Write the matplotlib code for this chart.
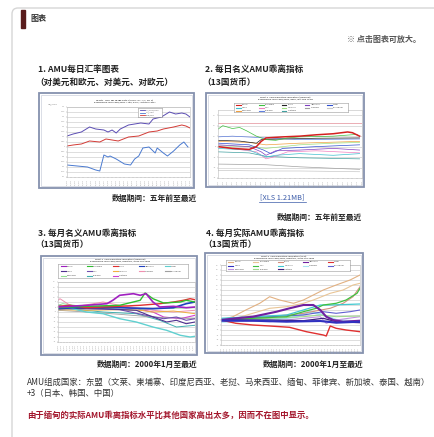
from matplotlib import pyplot as plt
from matplotlib.patches import Rectangle, FancyBboxPatch

plt.rcParams['font.family'] = ['Noto Sans CJK SC', 'DejaVu Sans']

# page texts
page_title = '图表'
click_note = '※ 点击图表可放大。'
c1_head = ['1. AMU每日汇率图表', '（对美元和欧元、对美元、对欧元）']
c2_head = ['2. 每日名义AMU乖离指标', '（13国货币）']
c3_head = ['3. 每月名义AMU乖离指标', '（13国货币）']
c4_head = ['4. 每月实际AMU乖离指标', '（13国货币）']
period_5y = '数据期间：五年前至最近'
period_2000 = '数据期间：2000年1月至最近'
xls_link = '[XLS 1.21MB]'
note_members = ['AMU组成国家：东盟（文莱、柬埔寨、印度尼西亚、老挝、马来西亚、缅甸、菲律宾、新加坡、泰国、越南）',
                '+3（日本、韩国、中国）']
note_red = '由于缅甸的实际AMU乖离指标水平比其他国家高出太多，因而不在图中显示。'

countries = ['Brunei', 'Cambodia', 'China', 'Indonesia', 'Japan', 'Korea', 'Laos',
             'Malaysia', 'Myanmar', 'Philippines', 'Singapore', 'Thailand', 'Vietnam']

# chart 1: AMU daily rate (months since start, value)
c1_purple = ([0, 3, 7, 11, 14, 18, 20, 22, 24, 26, 30, 33, 36, 40, 42, 46, 50, 53, 56, 58, 60],
             [1.11, 1.13, 1.15, 1.20, 1.18, 1.17, 1.15, 1.17, 1.14, 1.18, 1.22, 1.23, 1.24, 1.23,
              1.28, 1.30, 1.35, 1.33, 1.34, 1.33, 1.30])
c1_red = ([0, 3, 7, 11, 16, 19, 22, 25, 30, 35, 40, 44, 47, 52, 56, 58, 60],
          [1.01, 1.02, 1.03, 1.06, 1.05, 1.08, 1.07, 1.06, 1.10, 1.11, 1.15, 1.16, 1.18, 1.20,
           1.22, 1.21, 1.19])
c1_blue = ([0, 5, 10, 14, 16, 18, 20, 21, 24, 28, 31, 33, 35, 37, 40, 43, 44, 47, 49, 52, 55, 57, 59],
           [0.82, 0.81, 0.80, 0.77, 0.76, 0.92, 0.90, 0.91, 0.88, 0.83, 0.82, 0.88, 0.91, 0.99,
            1.00, 0.94, 0.99, 0.94, 0.91, 0.96, 1.02, 1.05, 1.00])
c1_xlabels = ['%02d/%02d' % (6 + m // 12, m % 12 + 1) for m in range(0, 61, 2)]

# chart 2: daily nominal deviation (%)
c2_red = ([0, 6, 13, 16, 18, 20, 27, 34, 41, 48, 54, 56, 59],
          [0, -1.7, -2.7, 0, 5, 8.3, 9.3, 10, 11.3, 12.3, 14, 13.3, 10])
c2_green = ([0, 2, 6, 9, 12, 16, 20, 24, 29, 34, 48, 58],
            [16.7, 20, 17.3, 18.3, 15, 10, 6.7, 6, 8.3, 9.3, 10, 11.7])
c2_black = ([0, 9, 16, 18, 27, 41, 59], [6, 5.3, 3.3, 6.7, 7.3, 8, 8.3])
c2_purple = ([0, 13, 18, 20, 24, 34, 48, 59], [1.7, 0, -5, -8.3, -4, -3.3, -1.7, -3.3])
c2_blue = ([0, 13, 19, 22, 27, 41, 59], [3.3, 1.7, -3.3, -6.7, -1.7, 0, 1.7])
c2_cyan = ([0, 13, 20, 24, 34, 48, 59], [-1.7, -3.3, -10, -8.3, -6.7, -8.3, -6.7])
c2_pink = ([0, 16, 20, 23, 29, 41, 59], [0, -5, -11.7, -10, -5, -4, -6])
c2_lgreen = ([0, 13, 20, 34, 48, 59], [0.7, 0, -1.7, 1.7, 3.3, 4])
c2_gray = ([0, 20, 34, 48, 59], [-16.7, -17.3, -19.3, -20.7, -21.7])
c2_lgray = ([0, 20, 34, 59], [-22.7, -23.3, -23.3, -24])
c2_orange = ([0, 13, 20, 34, 59], [5, 4, 1.7, 3.3, 5])
c2_blue2 = ([0, 6, 20, 34, 59], [9.3, 10, 8.3, 6.7, 7.3])
c2_teal = ([0, 13, 20, 34, 59], [-5, -6, -9.3, -10.7, -11.7])
c2_xlabels = ['%02d/%02d' % (6 + m // 12, m % 12 + 1) for m in range(0, 61, 2)]

# chart 3: monthly nominal deviation (%)
c3_purple = ([0, 29, 50, 56, 63, 77, 84, 90, 97, 104, 118, 131, 140],
             [0, 1.7, 3.3, 6.7, 11.7, 13.3, 11.7, 13.3, 5, 0, 0.7, -0.7, 0])
c3_green = ([0, 29, 63, 84, 89, 97, 108, 125, 131, 140],
            [-0.7, 0.7, 1.7, 6.7, 14, 8.3, 4, 5, 6.7, 5])
c3_red = ([0, 12, 29, 63, 84, 104, 118, 128, 135, 140],
          [0.7, 1.7, -0.7, 0.7, 1.7, 3.3, 5, 6.7, 8.3, 7.3])
c3_blue = ([0, 29, 63, 97, 118, 131, 140], [-1.7, 0, -0.7, -1.7, -0.7, 3.3, 5])
c3_cyan = ([0, 29, 46, 63, 80, 97, 111, 125, 135, 140],
           [1.7, -5, -6.7, -11.7, -15, -20, -23.3, -28.3, -30, -29.3])
c3_dpurple = ([0, 46, 80, 97, 111, 121, 131, 140], [-1.7, -1.7, -3.3, -10, -15, -13.3, -16.7, -15])
c3_purple2 = ([0, 63, 90, 108, 121, 131, 140], [-0.7, -2.7, -8.3, -11.7, -10, -13.3, -11.7])
c3_orange = ([0, 29, 63, 84, 97, 118, 140], [-2.7, -3.3, -2.7, -3.3, -5, -4, -6.7])
c3_pink = ([0, 2, 15, 36, 46, 63, 97, 118, 140], [6.7, 8.3, 0, 3.3, 5, 1.7, -3.3, -5, -3.3])
c3_gray = ([0, 29, 63, 97, 140], [-3.3, -5, -7.3, -10, -11.7])
c3_lgreen = ([0, 5, 29, 80, 97, 140], [1.7, 3.3, 0, -3.3, -1.7, -0.7])
c3_teal = ([0, 46, 80, 104, 121, 140], [-0.7, -5, -6.7, -13.3, -20, -18.3])
c3_magenta = ([0, 63, 80, 97, 108, 125, 140], [-0.7, 0, -1.7, -5, -10, -11.7, -8.3])
c3_xlabels = ['%02d/%02d' % (m // 12, m % 12 + 1) for m in range(0, 141, 3)]

# chart 4: monthly real deviation (%)
c4_tan = ([0, 12, 25, 39, 49, 59, 73, 83, 93, 103, 116, 130, 140],
          [0, 3.3, 10, 16.7, 23.3, 20, 16.7, 20, 25, 30, 35, 40, 45])
c4_tan2 = ([0, 15, 32, 49, 66, 83, 93, 110, 123, 133, 140],
           [0, 1.7, 6.7, 11.7, 13.3, 16.7, 20, 26.7, 30, 35, 36.7])
c4_rose = ([0, 49, 83, 110, 123, 133, 140], [0, 3.3, 6.7, 11.7, 16.7, 23.3, 33.3])
c4_purple = ([0, 15, 32, 56, 69, 83, 93, 100, 106, 113, 123, 140],
             [0, 1.7, 3.3, 8.3, 11.7, 15, 15, 10, 3.3, 0, -1.7, -0.7])
c4_red = ([0, 15, 32, 49, 69, 86, 103, 106, 110, 116, 126, 140],
          [0, -3.3, -5, -6, -7.3, -11.7, -15, -16, -6, -8.3, -10, -11.7])
c4_blue = ([0, 32, 66, 100, 116, 140], [-0.7, -0.7, -1.7, -1, -2.7, -1.7])
c4_green = ([0, 32, 66, 83, 96, 103, 116, 126, 137, 140],
            [0, 1.7, 3.3, 8.3, 11.7, 15, 16.7, 20, 26.7, 31.7])
c4_cyan = ([0, 32, 66, 83, 100, 110, 140], [1.7, 3.3, 5, 10, 15, 15, 16])
c4_lcyan = ([0, 49, 76, 89, 103, 116, 140], [-1.7, 0, 3.3, 8.3, 5, 0, -1.7])
c4_bpurple = ([0, 49, 83, 103, 116, 130, 140], [0.7, 3.3, 5, 8.3, 6.7, 8.3, 10])
c4_lilac = ([0, 49, 83, 100, 106, 116, 140], [-0.7, -1.7, 1.7, 3.3, -3.3, 0, 3.3])
c4_lgreen = ([0, 49, 83, 100, 116, 140], [0, 1.7, 3.3, 5, 3.3, 4])
c4_dpurple = ([0, 49, 83, 103, 116, 140], [0, 0, -0.7, 1.7, -1.7, -2.7])
c4_xlabels = c3_xlabels

W, H = 434, 437
fig = plt.figure(figsize=(W / 100, H / 100), dpi=100)

# background axes in pixel coordinates
bg = fig.add_axes([0, 0, 1, 1])
bg.set_xlim(0, W)
bg.set_ylim(H, 0)
bg.axis('off')


def box(x0, y0, x1, y1):
    return [x0 / W, 1 - y1 / H, (x1 - x0) / W, (y1 - y0) / H]


bg.add_patch(FancyBboxPatch((12, 8), 460, 460, boxstyle='round,pad=0,rounding_size=6',
                            ec='#d6d6d6', fc='white', lw=1))
bg.add_patch(Rectangle((21, 10), 4, 18, color='#5a1c1c'))
bg.text(30, 19, page_title, fontsize=5.8, fontweight='bold', color='#333333', va='center')
bg.text(421, 39, click_note, fontsize=5.8, fontweight='bold', color='#555555', va='center', ha='right')

TXT = '#222222'
for head, x0 in [(c1_head, 38), (c2_head, 205)]:
    bg.text(x0, 69, head[0], fontsize=6.2, fontweight='bold', color=TXT, va='center')
    bg.text(x0 - 3, 82, head[1], fontsize=6.2, fontweight='bold', color=TXT, va='center')
for head, x0 in [(c3_head, 38), (c4_head, 206)]:
    bg.text(x0, 233, head[0], fontsize=6.2, fontweight='bold', color=TXT, va='center')
    bg.text(x0 - 3, 245, head[1], fontsize=6.2, fontweight='bold', color=TXT, va='center')

bg.text(197, 198, period_5y, fontsize=5.6, fontweight='bold', color=TXT, va='center', ha='right')
bg.text(282, 197, xls_link, fontsize=5.3, color='#3a5aa8', va='center', ha='center')
bg.plot([259, 306], [201.5, 201.5], color='#3a5aa8', lw=0.5)
bg.text(362, 217, period_5y, fontsize=5.6, fontweight='bold', color=TXT, va='center', ha='right')
bg.text(197, 364, period_2000, fontsize=5.6, fontweight='bold', color=TXT, va='center', ha='right')
bg.text(363, 364, period_2000, fontsize=5.6, fontweight='bold', color=TXT, va='center', ha='right')

bg.text(27, 382, note_members[0], fontsize=6.0, color='#333333', va='center')
bg.text(27, 393, note_members[1], fontsize=6.0, color='#333333', va='center')
bg.text(27, 415, note_red, fontsize=6.0, color='#a3162c', va='center', fontweight='bold')

# chart frames
for x0, y0, x1, y1 in [(39, 93, 194, 188), (206, 93, 364, 187), (41, 256, 197, 355), (205, 253, 363, 353)]:
    bg.add_patch(Rectangle((x0, y0), x1 - x0, y1 - y0, fc='white', ec='#8591ae', lw=1.3))
    bg.add_patch(Rectangle((x0 + 2, y0 + 2), x1 - x0 - 4, y1 - y0 - 4, fc='none', ec='#d4d8e2', lw=0.6))


def small_plot(rect, series, xmax, ylim, ystep, xlabels, xstep):
    ax = fig.add_axes(box(*rect))
    ax.set_facecolor('white')
    for (xs, ys), color, lw in series:
        ax.plot(xs, ys, color=color, lw=lw, solid_joinstyle='round')
    ax.set_xlim(0, xmax)
    ax.set_ylim(*ylim)
    yt = []
    v = ylim[0]
    while v <= ylim[1] + 1e-9:
        yt.append(round(v, 3))
        v += ystep
    ax.set_yticks(yt)
    ax.set_yticklabels([('%g' % t) for t in yt], fontsize=1.6, color='#777777')
    ax.set_xticks(range(0, xmax + 1, xstep))
    ax.set_xticklabels(xlabels, fontsize=1.6, rotation=90, color='#777777')
    ax.tick_params(length=0.8, width=0.3, pad=0.8, colors='#999999')
    ax.grid(axis='y', color='#c4c4c4', lw=0.4)
    ax.set_axisbelow(True)
    for s in ax.spines.values():
        s.set_color('#bbbbbb')
        s.set_linewidth(0.4)
    return ax


def legend_box(rect, colors):
    lg = fig.add_axes(box(*rect))
    lg.set_xlim(0, 5)
    lg.set_ylim(3, 0)
    lg.set_xticks([])
    lg.set_yticks([])
    for s in lg.spines.values():
        s.set_color('#999999')
        s.set_linewidth(0.4)
    for i, (name, c) in enumerate(zip(countries, colors)):
        col, row = i % 5, i // 5
        lg.plot([col + 0.1, col + 0.3], [row + 0.5, row + 0.5], color=c, lw=0.8)
        lg.text(col + 0.35, row + 0.5, name, fontsize=1.5, color='#555555', va='center')


def frame_title(x, y, lines):
    for i, s in enumerate(lines):
        bg.text(x, y + i * 2.6, s, fontsize=1.7, fontweight='bold', color='#555555', ha='center', va='center')


# chart 1
c1_styles = [(c1_purple, '#5b4db3', 0.7), (c1_red, '#d33b36', 0.7), (c1_blue, '#4a7ad0', 0.7)]
ax1 = small_plot((67, 107, 190, 177), c1_styles, 60, (0.70, 1.40), 0.05, c1_xlabels, 2)
frame_title(125, 100, ['Chart 1  AMU Exchange Rates (US$-euro, US$, euro)',
                       'benchmark year 2000/2001 = 100, daily, last five years'])
bg.text(48, 104, 'US$/AMU', fontsize=1.6, color='#666666')
lg1 = fig.add_axes(box(138, 108, 162, 117))
lg1.set_xticks([])
lg1.set_yticks([])
for s in lg1.spines.values():
    s.set_color('#999999')
    s.set_linewidth(0.4)
for i, (lbl, c) in enumerate([('US$-euro/AMU', '#5b4db3'), ('US$/AMU', '#4a7ad0'), ('euro/AMU', '#d33b36')]):
    lg1.plot([0.08, 0.28], [0.78 - i * 0.28] * 2, color=c, lw=0.6)
    lg1.text(0.32, 0.78 - i * 0.28, lbl, fontsize=1.4, color='#555555', va='center')
lg1.set_xlim(0, 1)
lg1.set_ylim(0, 1)

# chart 2
c2_colors = ['#d42020', '#3fbf3f', '#222222', '#8040c0', '#3050d0', '#40c0d0', '#f080c0',
             '#a0e080', '#a0a0a0', '#c8c8c8', '#f0a040', '#6080e0', '#40a0a0']
c2_data = [c2_red, c2_green, c2_black, c2_purple, c2_blue, c2_cyan, c2_pink,
           c2_lgreen, c2_gray, c2_lgray, c2_orange, c2_blue2, c2_teal]
c2_widths = [1.1] + [0.5] * 12
ax2 = small_plot((218, 110, 362, 178), list(zip(c2_data[::-1], c2_colors[::-1], c2_widths[::-1])),
                 60, (-30, 35), 10, c2_xlabels, 2)
ax2.axhline(23, color='#e8a0a8', lw=0.6)
frame_title(285, 97, ['Chart 2  AMU Deviation Indicators (nominal)',
                      'benchmark year 2000/2001, daily, last five years'])
legend_box((234, 103, 348, 112), c2_colors)

# chart 3
c3_colors = ['#a020c0', '#30c030', '#e03030', '#2040c0', '#60d0d0', '#503090', '#7050b0',
             '#f0b040', '#f090b0', '#a0a0a0', '#90e090', '#40b0b0', '#d040d0']
c3_data = [c3_purple, c3_green, c3_red, c3_blue, c3_cyan, c3_dpurple, c3_purple2,
           c3_orange, c3_pink, c3_gray, c3_lgreen, c3_teal, c3_magenta]
c3_widths = [1.2, 1.0, 1.0, 1.2, 1.0, 0.8, 0.8, 0.7, 0.7, 0.6, 0.7, 0.7, 0.8]
ax3 = small_plot((58, 282, 195, 342), list(zip(c3_data[::-1], c3_colors[::-1], c3_widths[::-1])),
                 140, (-35, 25), 5, c3_xlabels, 3)
frame_title(120, 259, ['Chart 3  AMU Deviation Indicators (nominal)',
                       'benchmark year 2000/2001, monthly, since Jan 2000'])
legend_box((58, 264, 188, 278), c3_colors)

# chart 4
c4_colors = ['#e2b182', '#e9c596', '#d3917f', '#7020a0', '#e03030', '#3030c0', '#40c040',
             '#40c8d0', '#a8e2f0', '#6060d0', '#c090e0', '#a0d890', '#402080']
c4_data = [c4_tan, c4_tan2, c4_rose, c4_purple, c4_red, c4_blue, c4_green,
           c4_cyan, c4_lcyan, c4_bpurple, c4_lilac, c4_lgreen, c4_dpurple]
c4_widths = [0.8, 0.8, 0.8, 1.5, 1.0, 1.5, 0.9, 0.9, 1.6, 0.8, 0.8, 0.8, 0.9]
order4 = [8, 0, 1, 2, 9, 10, 11, 7, 6, 12, 4, 3, 5]
ax4 = small_plot((221, 265, 360, 345), [(c4_data[i], c4_colors[i], c4_widths[i]) for i in order4],
                 140, (-25, 55), 5, c4_xlabels, 3)
frame_title(284, 256, ['Chart 4  AMU Deviation Indicators (real)',
                       'benchmark year 2000/2001, monthly, since Jan 2000'])
legend_box((226, 260, 350, 271), c4_colors)

fig.savefig('out.png', dpi=100)
